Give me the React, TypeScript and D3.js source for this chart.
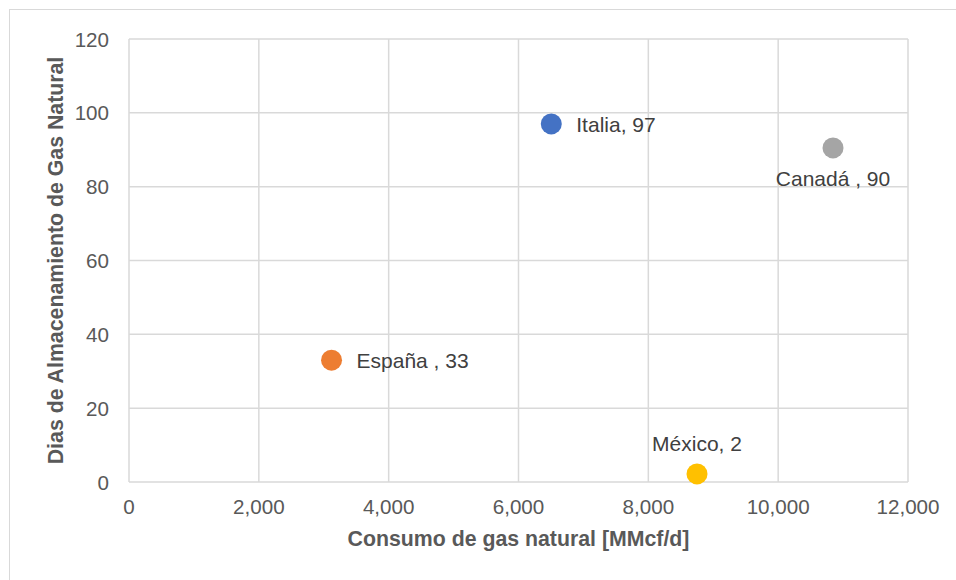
import React from "react";
import * as d3 from "d3";

const countries = ["Italia", "Canadá ", "España ", "México"];
const consumo = [6505, 10845, 3120, 8750];
const dias = [97, 90.5, 33, 2.2];
const labels = ["Italia, 97", "Canadá , 90", "España , 33", "México, 2"];
const colors = ["#4472C4", "#A5A5A5", "#ED7D31", "#FFC000"];
const labelPos = ["right", "below", "right", "above"];
const xTicks = [0, 2000, 4000, 6000, 8000, 10000, 12000];
const yTicks = [0, 20, 40, 60, 80, 100, 120];

export default function App() {
  const W = 956, H = 580;
  const left = 129, right = 908, top = 39, bottom = 482;
  const x = d3.scaleLinear().domain([0, 12000]).range([left, right]);
  const y = d3.scaleLinear().domain([0, 120]).range([bottom, top]);
  const fmt = d3.format(",");
  const font = "'Liberation Sans', Arial, sans-serif";
  return (
    <svg width={W} height={H} style={{ position: "absolute", left: 0, top: 0 }} fontFamily={font}>
      <rect x={0} y={0} width={W} height={H} fill="#fff" />
      <rect x={9.5} y={9.5} width={960} height={600} fill="none" stroke="#d9d9d9" strokeWidth={1} />
      {xTicks.map((t) => (
        <line key={"gx" + t} x1={x(t)} x2={x(t)} y1={top} y2={bottom} stroke="#d9d9d9" strokeWidth={1.5} />
      ))}
      {yTicks.map((t) => (
        <line key={"gy" + t} x1={left} x2={right} y1={y(t)} y2={y(t)} stroke="#d9d9d9" strokeWidth={1.5} />
      ))}
      {xTicks.map((t) => (
        <text key={"tx" + t} x={x(t)} y={514} textAnchor="middle" fontSize={20.6} fill="#595959">
          {fmt(t)}
        </text>
      ))}
      {yTicks.map((t) => (
        <text key={"ty" + t} x={109} y={y(t) + 7.5} textAnchor="end" fontSize={20.6} fill="#595959">
          {t}
        </text>
      ))}
      <text x={(left + right) / 2} y={546} textAnchor="middle" fontSize={21.3} fontWeight="bold" fill="#595959">
        Consumo de gas natural [MMcf/d]
      </text>
      <text
        transform={`translate(63,${(top + bottom) / 2}) rotate(-90)`}
        textAnchor="middle"
        fontSize={21.3}
        fontWeight="bold"
        fill="#595959"
      >
        Dias de Almacenamiento de Gas Natural
      </text>
      {countries.map((c, i) => {
        const cx = x(consumo[i]);
        const cy = y(dias[i]);
        const pos = labelPos[i];
        let lx = cx, ly = cy + 8, anchor: "start" | "middle" = "middle";
        if (pos === "right") { lx = cx + 25; anchor = "start"; }
        if (pos === "below") { ly = cy + 38; }
        if (pos === "above") { ly = cy - 23; }
        return (
          <g key={c}>
            <circle cx={cx} cy={cy} r={10.5} fill={colors[i]} />
            <text x={lx} y={ly} textAnchor={anchor} fontSize={21} fill="#404040">
              {labels[i]}
            </text>
          </g>
        );
      })}
    </svg>
  );
}
